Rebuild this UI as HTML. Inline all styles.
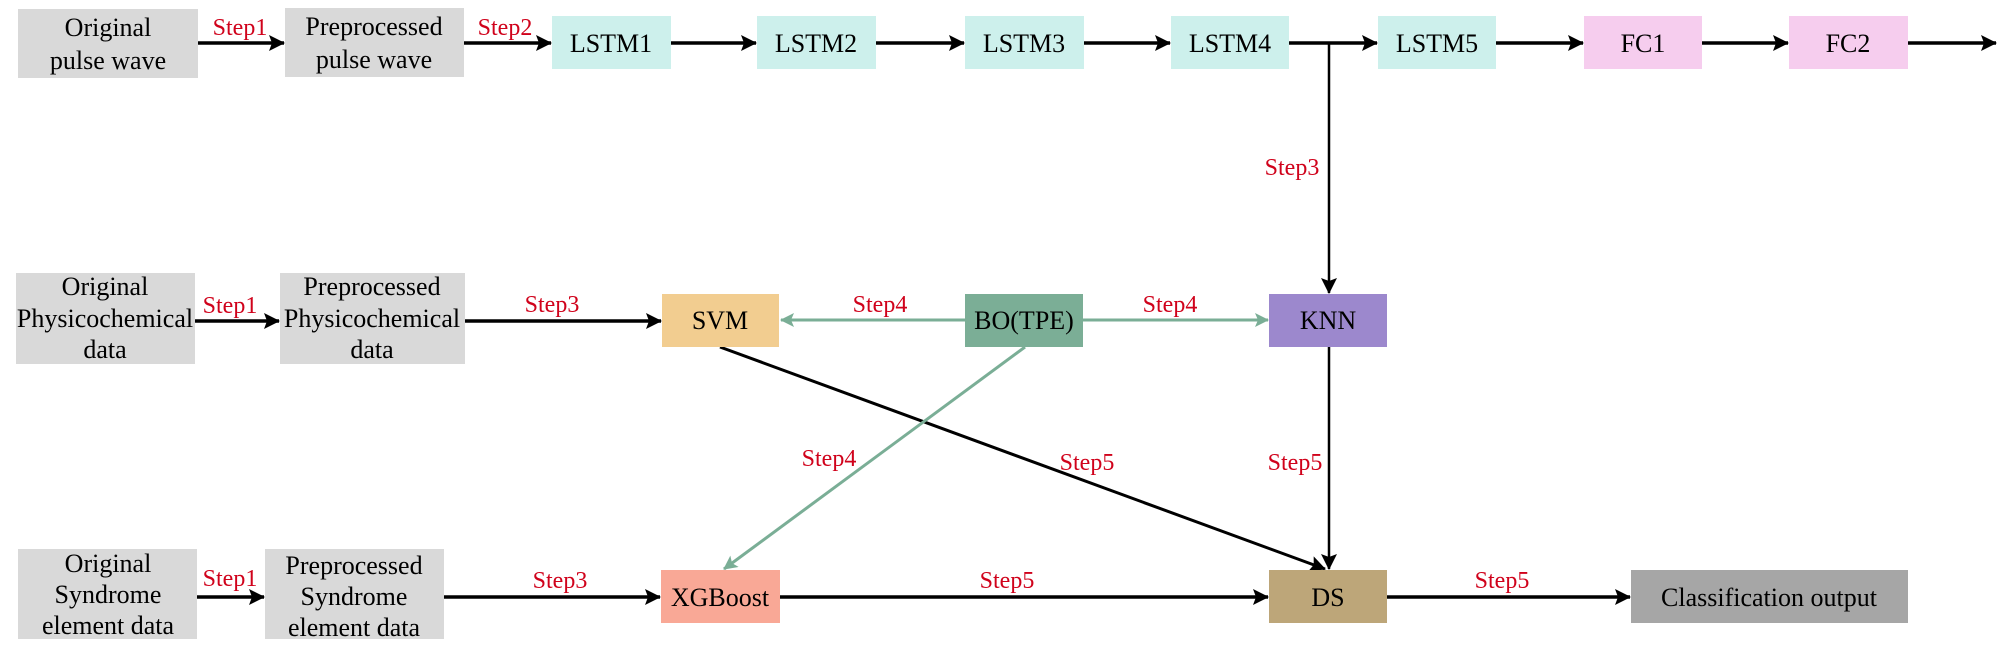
<!DOCTYPE html>
<html><head><meta charset="utf-8"><style>
html,body{margin:0;padding:0;background:#fff;width:2000px;height:664px;overflow:hidden}
svg{display:block}
</style></head><body>
<svg width="2000" height="664" viewBox="0 0 2000 664" xmlns="http://www.w3.org/2000/svg">
<defs>
<marker id="ab" markerWidth="16" markerHeight="16" refX="15" refY="8" orient="auto" markerUnits="userSpaceOnUse" viewBox="0 0 16 16"><path d="M0,0 L16,8 L0,16 L3,8 z" fill="#000"/></marker>
<marker id="ag" markerWidth="14" markerHeight="14" refX="13" refY="7" orient="auto" markerUnits="userSpaceOnUse" viewBox="0 0 14 14"><path d="M0,0 L14,7 L0,14 L3,7 z" fill="#7aae96"/></marker>
</defs>
<g stroke="#000" stroke-width="3.5" fill="none">
<path d="M198 43 H284" marker-end="url(#ab)"/>
<path d="M464 43 H551" marker-end="url(#ab)"/>
<path d="M671 43 H756" marker-end="url(#ab)"/>
<path d="M876 43 H964" marker-end="url(#ab)"/>
<path d="M1084 43 H1170" marker-end="url(#ab)"/>
<path d="M1289 43 H1377" marker-end="url(#ab)"/>
<path d="M1496 43 H1583" marker-end="url(#ab)"/>
<path d="M1702 43 H1788" marker-end="url(#ab)"/>
<path d="M1908 43 H1996" marker-end="url(#ab)"/>
<path d="M195 321 H279" marker-end="url(#ab)"/>
<path d="M465 321 H661" marker-end="url(#ab)"/>
<path d="M197 597 H264" marker-end="url(#ab)"/>
<path d="M444 597 H660" marker-end="url(#ab)"/>
<path d="M780 597 H1268" marker-end="url(#ab)"/>
<path d="M1387 597 H1630" marker-end="url(#ab)"/>
</g>
<g stroke="#000" stroke-width="2.5" fill="none">
<path d="M1329 43 V293" marker-end="url(#ab)"/>
<path d="M1329 347 V569" marker-end="url(#ab)"/>
<path d="M720 347 L1325 569" stroke-width="3" marker-end="url(#ab)"/>
</g>
<g stroke="#7aae96" stroke-width="3" fill="none">
<path d="M965 320 H781" marker-end="url(#ag)"/>
<path d="M1083 320 H1268" marker-end="url(#ag)"/>
<path d="M1025 347 L724 569" marker-end="url(#ag)"/>
</g>
<g>
<rect x="18" y="9" width="180" height="69" fill="#d9d9d9"/>
<rect x="285" y="8" width="179" height="69" fill="#d9d9d9"/>
<rect x="552" y="16" width="119" height="53" fill="#cdf0ec"/>
<rect x="757" y="16" width="119" height="53" fill="#cdf0ec"/>
<rect x="965" y="16" width="119" height="53" fill="#cdf0ec"/>
<rect x="1171" y="16" width="118" height="53" fill="#cdf0ec"/>
<rect x="1378" y="16" width="118" height="53" fill="#cdf0ec"/>
<rect x="1584" y="16" width="118" height="53" fill="#f6cdee"/>
<rect x="1789" y="16" width="119" height="53" fill="#f6cdee"/>
<rect x="16" y="273" width="179" height="91" fill="#d9d9d9"/>
<rect x="280" y="273" width="185" height="91" fill="#d9d9d9"/>
<rect x="662" y="294" width="117" height="53" fill="#f2cd90"/>
<rect x="965" y="294" width="118" height="53" fill="#7bae96"/>
<rect x="1269" y="294" width="118" height="53" fill="#9c88cd"/>
<rect x="18" y="549" width="179" height="90" fill="#d9d9d9"/>
<rect x="265" y="549" width="179" height="90" fill="#d9d9d9"/>
<rect x="661" y="570" width="119" height="53" fill="#f9a896"/>
<rect x="1269" y="570" width="118" height="53" fill="#bda679"/>
<rect x="1631" y="570" width="277" height="53" fill="#a6a6a6"/>
</g>
<g font-family="Liberation Serif, serif" font-size="26" fill="#000" text-anchor="middle">
<text x="108" y="36">Original</text><text x="108" y="69">pulse wave</text>
<text x="374" y="35">Preprocessed</text><text x="374" y="68">pulse wave</text>
<text x="611" y="52">LSTM1</text>
<text x="816" y="52">LSTM2</text>
<text x="1024" y="52">LSTM3</text>
<text x="1230" y="52">LSTM4</text>
<text x="1437" y="52">LSTM5</text>
<text x="1643" y="52">FC1</text>
<text x="1848" y="52">FC2</text>
<text x="105" y="295">Original</text><text x="105" y="327">Physicochemical</text><text x="105" y="358">data</text>
<text x="372" y="295">Preprocessed</text><text x="372" y="327">Physicochemical</text><text x="372" y="358">data</text>
<text x="720" y="329">SVM</text>
<text x="1024" y="329">BO(TPE)</text>
<text x="1328" y="329">KNN</text>
<text x="108" y="572">Original</text><text x="108" y="603">Syndrome</text><text x="108" y="634">element data</text>
<text x="354" y="574">Preprocessed</text><text x="354" y="605">Syndrome</text><text x="354" y="636">element data</text>
<text x="720" y="606">XGBoost</text>
<text x="1328" y="606">DS</text>
<text x="1769" y="606">Classification output</text>
</g>
<g font-family="Liberation Serif, serif" font-size="24" fill="#d0021b" text-anchor="middle">
<text x="240" y="35">Step1</text>
<text x="505" y="35">Step2</text>
<text x="1292" y="175">Step3</text>
<text x="230" y="313">Step1</text>
<text x="552" y="312">Step3</text>
<text x="880" y="312">Step4</text>
<text x="1170" y="312">Step4</text>
<text x="829" y="466">Step4</text>
<text x="1087" y="470">Step5</text>
<text x="1295" y="470">Step5</text>
<text x="230" y="586">Step1</text>
<text x="560" y="588">Step3</text>
<text x="1007" y="588">Step5</text>
<text x="1502" y="588">Step5</text>
</g>
</svg>
</body></html>
